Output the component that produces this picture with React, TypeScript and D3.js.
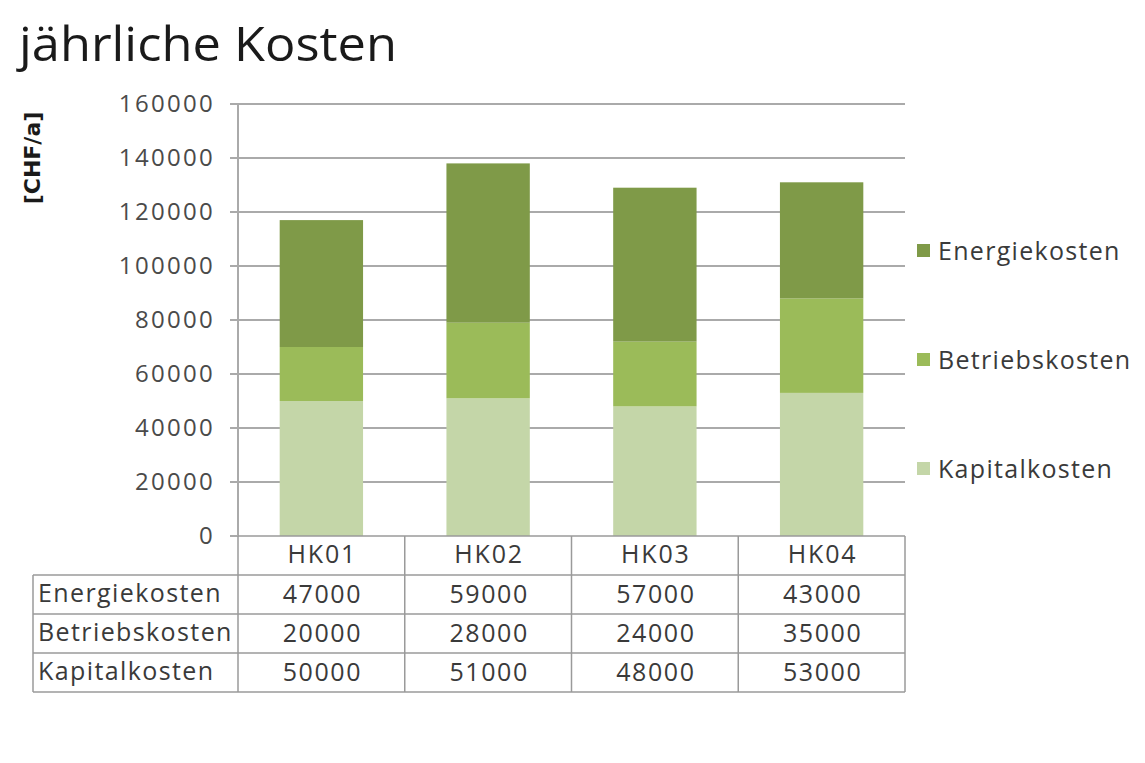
import React from "react";
import * as d3 from "d3";

const categories = ["HK01", "HK02", "HK03", "HK04"];
const energiekosten = [47000, 59000, 57000, 43000];
const betriebskosten = [20000, 28000, 24000, 35000];
const kapitalkosten = [50000, 51000, 48000, 53000];
const yTicks = [0, 20000, 40000, 60000, 80000, 100000, 120000, 140000, 160000];
const seriesNames = ["Kapitalkosten", "Betriebskosten", "Energiekosten"];
const seriesColors = ["#c4d6a8", "#9bbb59", "#7f9a48"];
const title = "jährliche Kosten";
const yLabel = "[CHF/a]";

const W = 1145;
const H = 763;
const FONT = "'Open Sans', 'DejaVu Sans', sans-serif";

export default function App() {
  const left = 238, right = 905, top = 104, bottom = 536;
  const x = d3.scaleBand<string>().domain(categories).range([left, right]).paddingInner(0.5).paddingOuter(0.25);
  const y = d3.scaleLinear().domain([0, 160000]).range([bottom, top]);
  const step = x.step();

  const rows = categories.map((c, i) => ({
    cat: c,
    Kapitalkosten: kapitalkosten[i],
    Betriebskosten: betriebskosten[i],
    Energiekosten: energiekosten[i],
  }));
  const stacked = d3.stack<any>().keys(seriesNames)(rows);

  const rowH = 39;
  const tableRows = [
    { name: "Energiekosten", values: energiekosten },
    { name: "Betriebskosten", values: betriebskosten },
    { name: "Kapitalkosten", values: kapitalkosten },
  ];
  const tableLeft = 33;
  const headerBottom = bottom + rowH;
  const lineColor = "#9a9a9a";
  const textColor = "#3a3a3a";

  const legendYs = [469, 360, 251];

  return (
    <svg width={W} height={H} style={{ position: "absolute", left: 0, top: 0, background: "#fff" }} fontFamily={FONT}>
      <rect x={0} y={0} width={W} height={H} fill="#fff" />
      <text x={19} y={61} fontSize={47} fill="#1a1a1a" textLength={378} lengthAdjust="spacingAndGlyphs">{title}</text>

      <text transform={`translate(40,158) rotate(-90)`} textAnchor="middle" fontSize={22} fontWeight="bold" fill="#1a1a1a" fontFamily="'DejaVu Sans', sans-serif">{yLabel}</text>

      {/* gridlines */}
      {yTicks.map((t) => (
        <g key={t}>
          {t > 0 && <line x1={left} x2={right} y1={y(t)} y2={y(t)} stroke="#aaaaaa" strokeWidth={2} />}
          <line x1={left - 8} x2={left} y1={y(t)} y2={y(t)} stroke="#aaaaaa" strokeWidth={2} />
          <text x={215} y={y(t) + 8} textAnchor="end" fontSize={24} fill="#4a4a4a" letterSpacing={2.3}>{t}</text>
        </g>
      ))}
      <line x1={left} x2={left} y1={top} y2={bottom} stroke="#aaaaaa" strokeWidth={2} />

      {/* bars */}
      {stacked.map((s, si) => (
        <g key={s.key} fill={seriesColors[si]}>
          {s.map((d, i) => (
            <rect key={i} x={x(categories[i])!} width={x.bandwidth()} y={y(d[1])} height={y(d[0]) - y(d[1])} />
          ))}
        </g>
      ))}

      {/* table */}
      <g stroke={lineColor} strokeWidth={1.5} fill="none">
        <line x1={left} x2={right} y1={bottom} y2={bottom} />
        {[1, 2, 3, 4].map((k) => (
          <line key={k} x1={tableLeft} x2={right} y1={bottom + k * rowH} y2={bottom + k * rowH} />
        ))}
        <line x1={tableLeft} x2={tableLeft} y1={headerBottom} y2={bottom + 4 * rowH} />
        {[0, 1, 2, 3, 4].map((k) => (
          <line key={k} x1={left + k * step} x2={left + k * step} y1={bottom} y2={bottom + 4 * rowH} />
        ))}
      </g>
      {categories.map((c) => (
        <text key={c} x={x(c)! + x.bandwidth() / 2 + 1} y={bottom + 27} textAnchor="middle" fontSize={25} fill={textColor} letterSpacing={1.8}>{c}</text>
      ))}
      {tableRows.map((r, ri) => (
        <g key={r.name}>
          <text x={38} y={headerBottom + ri * rowH + 27} fontSize={25} fill={textColor} letterSpacing={1.4}>{r.name}</text>
          {r.values.map((v, i) => (
            <text key={i} x={x(categories[i])! + x.bandwidth() / 2 + 1} y={headerBottom + ri * rowH + 28} textAnchor="middle" fontSize={25} fill={textColor} letterSpacing={1.6}>{v}</text>
          ))}
        </g>
      ))}

      {/* legend */}
      {seriesNames.map((n, i) => (
        <g key={n}>
          <rect x={917} y={legendYs[i] - 7} width={13} height={13} fill={seriesColors[i]} />
          <text x={938} y={legendYs[i] + 9} fontSize={25} fill={textColor} letterSpacing={1.3}>{n}</text>
        </g>
      ))}
    </svg>
  );
}
